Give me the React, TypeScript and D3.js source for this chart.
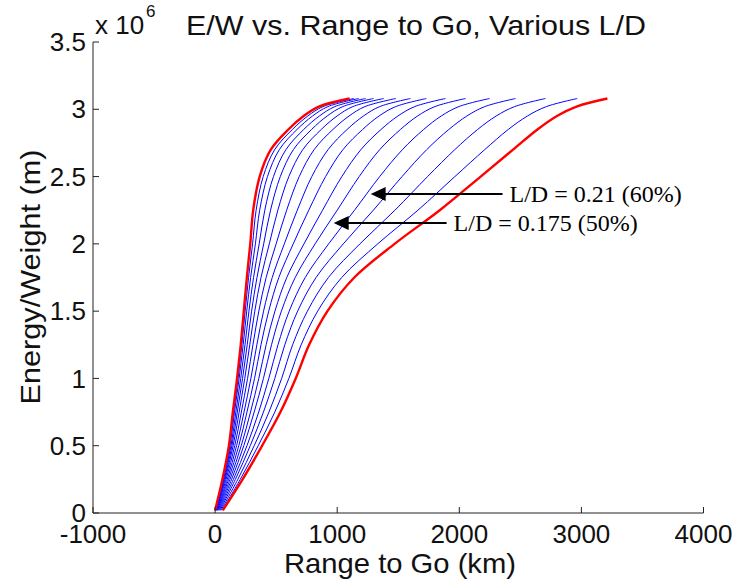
import React from 'react';
import * as d3 from 'd3';

// Energy/Weight levels (x 10^6 m) at which the curves are sampled
const EW_LEVELS = [0.02, 0.25, 0.5, 0.75, 1.0, 1.25, 1.5, 1.75, 2.0, 2.25, 2.5, 2.7, 2.85, 2.95, 3.02, 3.08];

// Range to go (km) of each curve at these levels
const RED_LEFT = [0, 60, 113, 145, 180, 210, 235, 260, 288, 312, 365, 456, 600, 725, 850, 1102];
const RED_RIGHT = [63, 225, 385, 535, 660, 770, 920, 1140, 1470, 1840, 2175, 2440, 2640, 2800, 2960, 3213];

const BLUE_1 = [1, 63, 117, 151, 188, 219, 246, 274, 307, 336, 394, 488, 633, 759, 884, 1136];
const BLUE_2 = [2, 66, 122, 159, 197, 230, 259, 291, 330, 365, 429, 526, 671, 798, 924, 1176];
const BLUE_3 = [4, 70, 130, 170, 210, 245, 277, 315, 361, 407, 478, 580, 726, 854, 981, 1233];
const BLUE_4 = [6, 76, 138, 182, 225, 263, 299, 343, 398, 454, 534, 641, 790, 918, 1046, 1298];
const BLUE_5 = [8, 82, 148, 197, 243, 284, 325, 376, 444, 514, 604, 718, 869, 999, 1128, 1381];
const BLUE_6 = [11, 90, 161, 215, 266, 310, 358, 418, 500, 586, 689, 811, 965, 1097, 1227, 1480];
const BLUE_7 = [15, 100, 176, 237, 293, 342, 397, 468, 567, 673, 792, 925, 1081, 1215, 1348, 1600];
const BLUE_8 = [19, 110, 194, 261, 323, 376, 439, 522, 640, 767, 905, 1047, 1208, 1343, 1479, 1731];
const BLUE_9 = [23, 122, 214, 290, 358, 418, 490, 587, 728, 880, 1038, 1194, 1359, 1497, 1635, 1887];
const BLUE_10 = [28, 135, 235, 320, 396, 462, 543, 656, 819, 1000, 1180, 1348, 1518, 1658, 1800, 2052];
const BLUE_11 = [34, 150, 261, 357, 440, 515, 607, 738, 930, 1142, 1348, 1534, 1708, 1852, 1996, 2248];
const BLUE_12 = [41, 166, 288, 396, 489, 571, 676, 827, 1050, 1296, 1531, 1733, 1914, 2062, 2209, 2461];
const BLUE_13 = [48, 186, 320, 441, 545, 635, 756, 928, 1186, 1473, 1740, 1963, 2150, 2302, 2453, 2706];
const BLUE_14 = [56, 206, 353, 489, 604, 705, 840, 1037, 1332, 1661, 1964, 2208, 2401, 2558, 2713, 2966];

const BLUE_CURVES = [BLUE_1, BLUE_2, BLUE_3, BLUE_4, BLUE_5, BLUE_6, BLUE_7, BLUE_8, BLUE_9, BLUE_10, BLUE_11, BLUE_12, BLUE_13, BLUE_14];
const RED_CURVES = [RED_LEFT, RED_RIGHT];

const X_TICKS = [-1000, 0, 1000, 2000, 3000, 4000];
const Y_TICKS = [0, 0.5, 1, 1.5, 2, 2.5, 3, 3.5];

// annotations: label, arrow tip (km, x10^6 m), arrow tail x (km)
const ANNOT_LABELS = ['L/D = 0.21 (60%)', 'L/D = 0.175 (50%)'];
const ANNOT_TIP_X = [1274, 971];
const ANNOT_TIP_Y = [2.37, 2.155];
const ANNOT_TAIL_X = [2354, 1896];

const W = 736;
const H = 583;

export default function App() {
  const x = d3.scaleLinear().domain([-1000, 4000]).range([93, 703.5]);
  const y = d3.scaleLinear().domain([0, 3.5]).range([513, 42]);

  const line = d3
    .line<[number, number]>()
    .x((d) => x(d[0]))
    .y((d) => y(d[1]))
    .curve(d3.curveCatmullRom.alpha(0.5));

  const toPts = (xs: number[]) => xs.map((v, i) => [v, EW_LEVELS[i]] as [number, number]);

  const font = "Arial, 'Liberation Sans', Helvetica, sans-serif";
  const serif = "'Times New Roman', 'Liberation Serif', serif";

  return (
    <svg width={W} height={H} style={{ position: 'absolute', left: 0, top: 0, background: '#fff' }}>
      <rect x={0} y={0} width={W} height={H} fill="#fff" />
      {/* curves */}
      <g fill="none">
        {BLUE_CURVES.map((c, i) => (
          <path key={'b' + i} d={line(toPts(c)) || ''} stroke="#0000ff" strokeWidth={1} />
        ))}
        {RED_CURVES.map((c, i) => (
          <path key={'r' + i} d={line(toPts(c)) || ''} stroke="#ff0000" strokeWidth={2.4} />
        ))}
      </g>

      {/* axes */}
      <g stroke="#222" strokeWidth={1} fill="none">
        <line x1={x(-1000)} x2={x(4000)} y1={y(0)} y2={y(0)} />
        <line x1={x(-1000)} x2={x(-1000)} y1={y(0)} y2={y(3.5)} />
        {X_TICKS.map((t) => (
          <line key={'xt' + t} x1={x(t)} x2={x(t)} y1={y(0)} y2={y(0) - 6} />
        ))}
        {Y_TICKS.map((t) => (
          <line key={'yt' + t} x1={x(-1000)} x2={x(-1000) + 6} y1={y(t)} y2={y(t)} />
        ))}
      </g>
      <g fontFamily={font} fontSize={26} fill="#111">
        {X_TICKS.map((t) => (
          <text key={'xl' + t} x={x(t)} y={y(0) + 30} textAnchor="middle">
            {t}
          </text>
        ))}
        {Y_TICKS.map((t) => (
          <text key={'yl' + t} x={x(-1000) - 7} y={y(t)} dy="0.35em" textAnchor="end">
            {t}
          </text>
        ))}
        <text x={95} y={34} fontSize={26}>
          x 10
        </text>
        <text x={146} y={17} fontSize={17}>
          6
        </text>
        <text x={416} y={35} textAnchor="middle" fontSize={28} textLength={460} lengthAdjust="spacingAndGlyphs">
          E/W vs. Range to Go, Various L/D
        </text>
        <text x={400} y={573} textAnchor="middle" fontSize={28} textLength={232} lengthAdjust="spacingAndGlyphs">
          Range to Go (km)
        </text>
        <text
          transform={`translate(40,277) rotate(-90)`}
          textAnchor="middle"
          fontSize={28}
          textLength={255}
          lengthAdjust="spacingAndGlyphs"
        >
          Energy/Weight (m)
        </text>
      </g>

      {/* annotations */}
      <g>
        {ANNOT_LABELS.map((lab, i) => {
          const tx = x(ANNOT_TIP_X[i]);
          const ty = y(ANNOT_TIP_Y[i]);
          const sx = x(ANNOT_TAIL_X[i]);
          return (
            <g key={'a' + i}>
              <line x1={sx} x2={tx + 12} y1={ty} y2={ty} stroke="#000" strokeWidth={2} />
              <path d={`M${tx},${ty} L${tx + 15},${ty - 7} L${tx + 15},${ty + 7} Z`} fill="#000" />
              <text x={sx + 7} y={ty} dy="0.35em" fontFamily={serif} fontSize={24} fill="#000">
                {lab}
              </text>
            </g>
          );
        })}
      </g>
    </svg>
  );
}
